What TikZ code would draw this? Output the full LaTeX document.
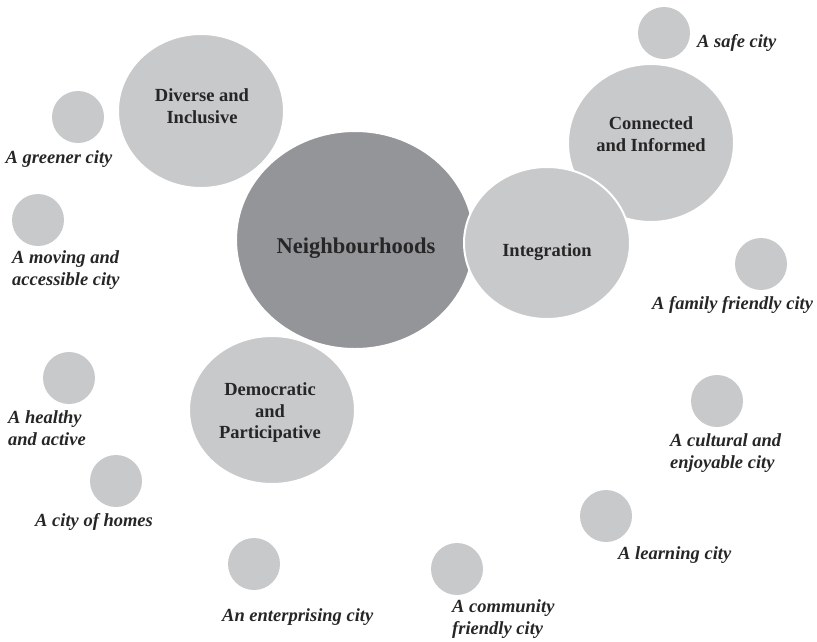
\documentclass[tikz,border=0pt]{standalone}
\usepackage{fontspec}
\setmainfont{Liberation Serif}
\usetikzlibrary{shapes.geometric}
\definecolor{bubblegray}{RGB}{200,201,203}
\definecolor{coregray}{RGB}{147,149,152}

\begin{document}
\begin{tikzpicture}
[x=1pt, y=-1pt,
every node/.style={inner sep=0pt},
bigbubble/.style={shape=ellipse, draw=white, line width=2pt, fill=bubblegray},
smallbubble/.style={shape=circle, fill=bubblegray, minimum size=52pt},
bubbletext/.style={align=center, font=\fontsize{18.5}{21.5}\selectfont\bfseries, text=black!85},
citytext/.style={anchor=west, align=left, font=\fontsize{18.5}{21.5}\selectfont\bfseries\itshape, text=black!85}]
\useasboundingbox (0,0) rectangle (817,641);
% the five big bubbles
\node[bigbubble, minimum width=166pt, minimum height=154pt] (diverse) at (201,111) {};
\node[bigbubble, minimum width=166pt, minimum height=148pt] (democratic) at (272,410) {};
\node[bigbubble, fill=coregray, minimum width=238pt, minimum height=218pt] (nbh) at (355,240) {};
\node[bigbubble, minimum width=166pt, minimum height=158pt] (connected) at (651,143) {};
\node[bigbubble, minimum width=166pt, minimum height=152pt] (integration) at (547,243) {};
\node[bubbletext] (diversetext) at (202,106) {Diverse and\\Inclusive};
\node[bubbletext, font=\fontsize{22.5}{26}\selectfont\bfseries] (nbhtext) at (356,248) {Neighbourhoods};
\node[bubbletext] (democratictext) at (270,413) {Democratic\\and\\Participative};
\node[bubbletext] (connectedtext) at (651,134) {Connected\\and Informed};
\node[bubbletext] (integrationtext) at (547,252) {Integration};
% the small city bubbles
\node[smallbubble] (safe) at (664,33) {};
\node[smallbubble] (greener) at (78,117) {};
\node[smallbubble] (moving) at (38,220) {};
\node[smallbubble] (family) at (761,264) {};
\node[smallbubble] (healthy) at (69,378) {};
\node[smallbubble] (cultural) at (717,401) {};
\node[smallbubble] (homes) at (116,481) {};
\node[smallbubble] (learning) at (606,516) {};
\node[smallbubble] (enterprising) at (254,564) {};
\node[smallbubble] (community) at (457,569) {};
\node[citytext] (safetext) at (697,43) {A safe city};
\node[citytext, anchor=center] (greenertext) at (59,159) {A greener city};
\node[citytext] (movingtext) at (12,270) {A moving and\\accessible city};
\node[citytext] (familytext) at (652,305) {A family friendly city};
\node[citytext] (healthytext) at (8,428) {A healthy\\and active};
\node[citytext] (culturaltext) at (670,453) {A cultural and\\enjoyable city};
\node[citytext] (homestext) at (35,522) {A city of homes};
\node[citytext] (learningtext) at (618,555) {A learning city};
\node[citytext] (enterprisingtext) at (222,617) {An enterprising city};
\node[citytext] (communitytext) at (452,619) {A community\\friendly city};
\end{tikzpicture}
\end{document}
